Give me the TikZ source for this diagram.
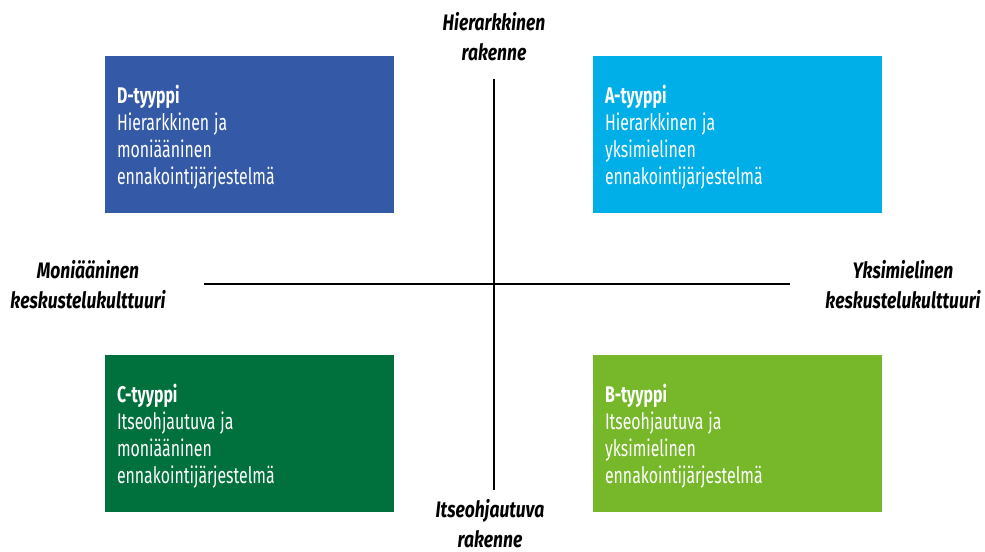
\documentclass[tikz,border=0pt]{standalone}
\usepackage{fontspec}
\setmainfont{Fira Sans}[FakeStretch=0.70]
\newfontfamily\axisfont{Fira Sans}[FakeStretch=0.78]
\usetikzlibrary{positioning}

\definecolor{dtype}{RGB}{52,89,166}
\definecolor{atype}{RGB}{0,174,232}
\definecolor{ctype}{RGB}{0,112,60}
\definecolor{btype}{RGB}{118,184,42}

\newcommand{\narrowspace}{\spaceskip=0.22em\relax}

\tikzset{
  typebox/.style={minimum width=216.75pt,minimum height=117.75pt,inner sep=0pt},
  typetext/.style={anchor=west,xshift=9pt,yshift=-2pt,inner sep=0pt,text width=198.75pt,
    align=flush left,text=white,font=\fontsize{17}{20.25}\selectfont\narrowspace},
  axislabel/.style={align=flush center,font=\axisfont\fontsize{16.8}{22.5}\selectfont\bfseries\itshape\narrowspace},
  axisline/.style={line width=0.8pt}
}

\begin{document}
\begin{tikzpicture}[x=0.75pt,y=0.75pt,yscale=-1,xscale=1]
\useasboundingbox (0,0) rectangle (985,552);

%Shape: Axis 2D
\coordinate (ytop) at (494,79);
\coordinate (ybot) at (494,490);
\coordinate (xlft) at (204,284);
\coordinate (xrgt) at (790,284);
\draw [axisline] (ytop) -- (ybot);
\draw [axisline] (xlft) -- (xrgt);

%Shape: Boxes
\node [typebox,fill=dtype] (dbox) at (249.5,134.5) {};
\node [typebox,fill=atype] (abox) at (737.5,134.5) {};
\node [typebox,fill=ctype] (cbox) at (249.5,433.5) {};
\node [typebox,fill=btype] (bbox) at (737.5,433.5) {};

% Text Node
\node [typetext] (dtext) at (dbox.west) {\textbf{D-tyyppi}\\Hierarkkinen ja\\moniääninen\\ennakointijärjestelmä};
% Text Node
\node [typetext] (atext) at (abox.west) {\textbf{A-tyyppi}\\Hierarkkinen ja\\yksimielinen\\ennakointijärjestelmä};
% Text Node
\node [typetext] (ctext) at (cbox.west) {\textbf{C-tyyppi}\\Itseohjautuva ja\\moniääninen\\ennakointijärjestelmä};
% Text Node
\node [typetext] (btext) at (bbox.west) {\textbf{B-tyyppi}\\Itseohjautuva ja\\yksimielinen\\ennakointijärjestelmä};

% Text Node
\node [axislabel] (toplabel) at (494,37) {Hierarkkinen\\rakenne};
% Text Node
\node [axislabel] (botlabel) at (490,524) {Itseohjautuva\\rakenne};
% Text Node
\node [axislabel] (lftlabel) at (88,285) {Moniääninen\\keskustelukulttuuri};
% Text Node
\node [axislabel] (rgtlabel) at (903,285) {Yksimielinen\\keskustelukulttuuri};

\end{tikzpicture}
\end{document}
